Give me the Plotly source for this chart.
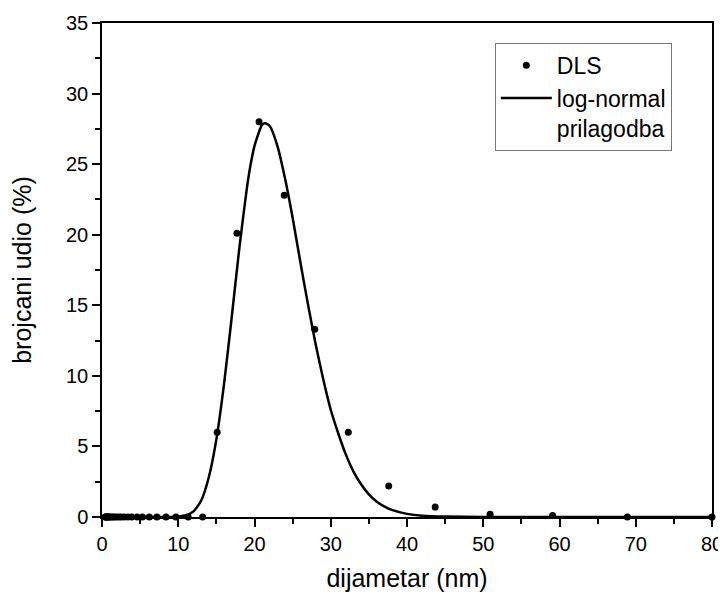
import plotly.graph_objects as go

# DLS measured points (diameter nm, number %)
dls_x = [0.41, 0.48, 0.56, 0.65, 0.76, 0.88, 1.0, 1.2, 1.4, 1.6, 1.9, 2.2, 2.5, 2.9,
         3.4, 3.9, 4.6, 5.3, 6.2, 7.2, 8.4, 9.7, 11.3, 13.2,
         15.1, 17.7, 20.6, 23.9, 27.9, 32.3, 37.6, 43.7, 50.9, 59.1, 68.9, 80.0]
dls_y = [0, 0, 0, 0, 0, 0, 0, 0, 0, 0, 0, 0, 0, 0,
         0, 0, 0, 0, 0, 0, 0, 0, 0, 0,
         6.0, 20.1, 28.0, 22.8, 13.3, 6.0, 2.2, 0.7, 0.2, 0.1, 0.0, 0.0]

# log-normal fit curve
fit_x = [0, 5, 8, 9, 10, 11, 12, 13, 14, 15, 16, 17, 18, 19, 19.5, 20, 21, 21.4, 22, 23,
         24, 25, 26, 27, 28, 29, 30, 31, 32, 33, 34, 35, 36, 37, 38, 40, 42, 45, 50, 60, 80]
fit_y = [0, 0, 0, 0, 0.03, 0.12, 0.4, 1.15, 2.8, 5.5, 9.4, 14.1, 19.0, 23.3, 25.0, 26.3,
         27.8, 27.9, 27.7, 26.3, 24.0, 21.2, 18.1, 15.1, 12.3, 9.8, 7.6, 5.9, 4.4, 3.2,
         2.3, 1.6, 1.1, 0.75, 0.5, 0.22, 0.09, 0.03, 0.0, 0.0, 0.0]

x_ticks = [0, 10, 20, 30, 40, 50, 60, 70, 80]
y_ticks = [0, 5, 10, 15, 20, 25, 30, 35]

font_family = "Liberation Sans, Arial, sans-serif"

fig = go.Figure()
fig.add_trace(go.Scatter(
    x=dls_x, y=dls_y, mode="markers", name="DLS",
    marker=dict(color="black", size=7), cliponaxis=False,
))
fig.add_trace(go.Scatter(
    x=fit_x, y=fit_y, mode="lines", name="log-normal<br>prilagodba",
    line=dict(color="black", width=2.5, shape="spline", smoothing=0.6),
))

axis_common = dict(
    showgrid=False, zeroline=False, showline=True, linecolor="black", linewidth=1.5,
    mirror=True, ticks="outside", tickcolor="black", tickwidth=1.5, ticklen=8,
    tickfont=dict(family=font_family, size=20, color="black"),
    minor=dict(ticks="outside", ticklen=5, tickcolor="black", tickwidth=1.5),
    automargin=False,
)

fig.update_xaxes(
    range=[0, 80], tickvals=x_ticks, ticktext=[str(v) for v in x_ticks],
    minor_dtick=5, minor_tick0=0,
    title=dict(text="dijametar (nm)", font=dict(family=font_family, size=25, color="black"), standoff=16),
    **axis_common,
)
fig.update_yaxes(
    range=[0, 35], tickvals=y_ticks, ticktext=[str(v) for v in y_ticks],
    minor_dtick=2.5, minor_tick0=0,
    title=dict(text="brojcani udio (%)", font=dict(family=font_family, size=25, color="black"), standoff=30),
    **axis_common,
)

# page body has an 8px margin, so the figure is sized/offset to fit the 726x595 window
fig.update_layout(
    width=718, height=587,
    margin=dict(l=94, r=14, t=15, b=78),
    plot_bgcolor="white", paper_bgcolor="white",
    font=dict(family=font_family, color="black"),
    legend=dict(
        x=0.644, y=0.96, xanchor="left", yanchor="top",
        bgcolor="white", bordercolor="#777777", borderwidth=1,
        font=dict(family=font_family, size=23, color="black"),
        valign="top", tracegroupgap=0, itemwidth=51,
    ),
)

fig.write_html("out.html")
